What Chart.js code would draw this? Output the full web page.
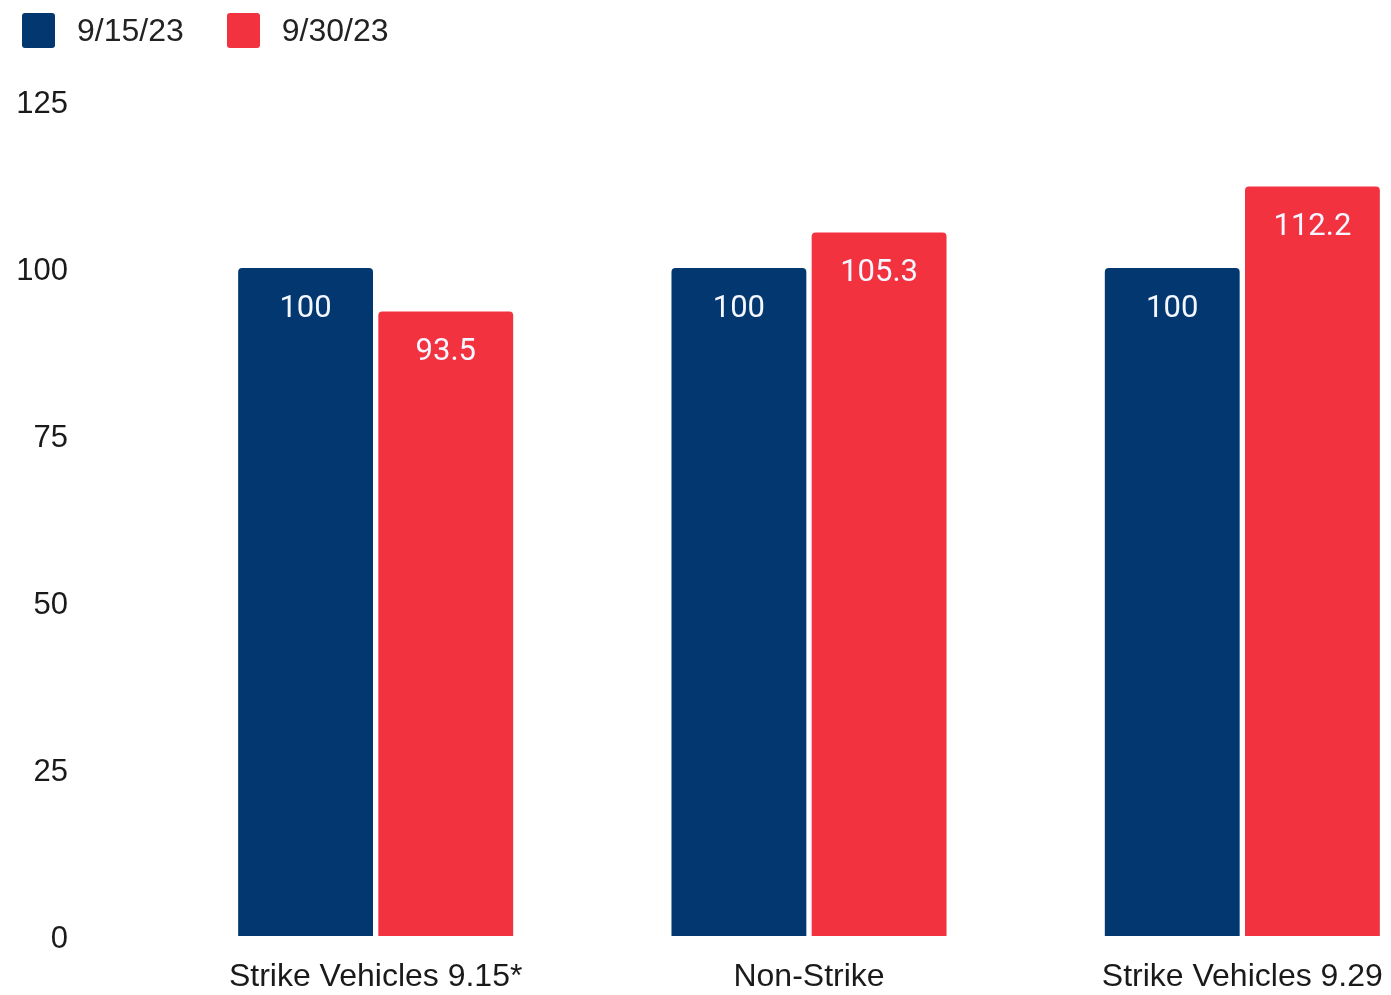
<!DOCTYPE html>
<html>
<head>
<meta charset="utf-8">
<script src="https://cdn.jsdelivr.net/npm/chart.js@4/dist/chart.umd.min.js"></script>
<style>
    html, body { margin: 0; padding: 0; background: #fff; overflow: hidden; }
    #wrap { position: relative; width: 1391px; height: 995px; overflow: hidden; }
    #legend { position: absolute; left: 22px; top: 12px; display: flex; align-items: center;
              font-family: "Liberation Sans", Arial, sans-serif; font-size: 32px; color: #222; }
    .legend-item { display: flex; align-items: center; margin-right: 43px; }
    .legend-box { width: 33px; height: 35px; border-radius: 3px; margin-right: 22px; }
    canvas { position: absolute; left: 0; top: 0; }
</style>
</head>
<body>
<div id="wrap">
    <canvas id="chart" width="1460" height="995"></canvas>
    <div id="legend"></div>
</div>
<script>
// --- DATA ---
const categories = ['Strike Vehicles 9.15*', 'Non-Strike', 'Strike Vehicles 9.29'];
const seriesNames = ['9/15/23', '9/30/23'];
const sept15Values = [100, 100, 100];
const sept30Values = [93.5, 105.3, 112.2];
const yTicks = [0, 25, 50, 75, 100, 125];

const colors = ['#02386f', '#f3323f'];

// --- value labels inside bar tops ---
const barLabels = {
    id: 'barLabels',
    afterDatasetsDraw(chart) {
        const ctx = chart.ctx;
        ctx.save();
        ctx.font = '31px Roboto, sans-serif';
        ctx.fillStyle = '#f4f7ff';
        ctx.textAlign = 'center';
        ctx.textBaseline = 'middle';
        chart.data.datasets.forEach((ds, i) => {
            chart.getDatasetMeta(i).data.forEach((bar, j) => {
                ctx.fillText(String(ds.data[j]), bar.x, bar.y + 41);
            });
        });
        ctx.restore();
    }
};

// --- legend (html) ---
const legendEl = document.getElementById('legend');
legendEl.innerHTML = seriesNames.map((name, i) => `
    <div class="legend-item">
        <div class="legend-box" style="background:${colors[i]}"></div>
        <span>${name}</span>
    </div>`).join('');

const barStyle = {
    categoryPercentage: 0.647,
    barPercentage: 0.962,
    borderRadius: { topLeft: 4, topRight: 4 },
    borderSkipped: 'start'
};

new Chart(document.getElementById('chart'), {
    type: 'bar',
    data: {
        labels: categories,
        datasets: [
            { label: seriesNames[0], data: sept15Values, backgroundColor: colors[0], ...barStyle },
            { label: seriesNames[1], data: sept30Values, backgroundColor: colors[1], ...barStyle }
        ]
    },
    options: {
        responsive: false,
        animation: false,
        layout: { padding: { top: 101, right: 1, bottom: 2, left: 0 } },
        plugins: { legend: { display: false }, tooltip: { enabled: false } },
        scales: {
            x: {
                afterFit: (s) => { s.height = 57; },
                grid: { display: false, drawTicks: false },
                border: { display: false },
                ticks: { color: '#1a1a1a', padding: 22, maxRotation: 0, font: { family: 'Liberation Sans', size: 32 } }
            },
            y: {
                min: 0,
                max: 125,
                // tick padding also pads top/bottom of the axis, so drop that
                afterFit: (s) => { s.width = 159; s.paddingTop = 0; s.paddingBottom = 0; },
                afterBuildTicks: (s) => { s.ticks = yTicks.map(v => ({ value: v })); },
                grid: { display: false, drawTicks: false },
                border: { display: false },
                ticks: { color: '#1a1a1a', padding: 91, labelOffset: 3, font: { family: 'Liberation Sans', size: 31 } }
            }
        }
    },
    plugins: [barLabels]
});
</script>
</body>
</html>
